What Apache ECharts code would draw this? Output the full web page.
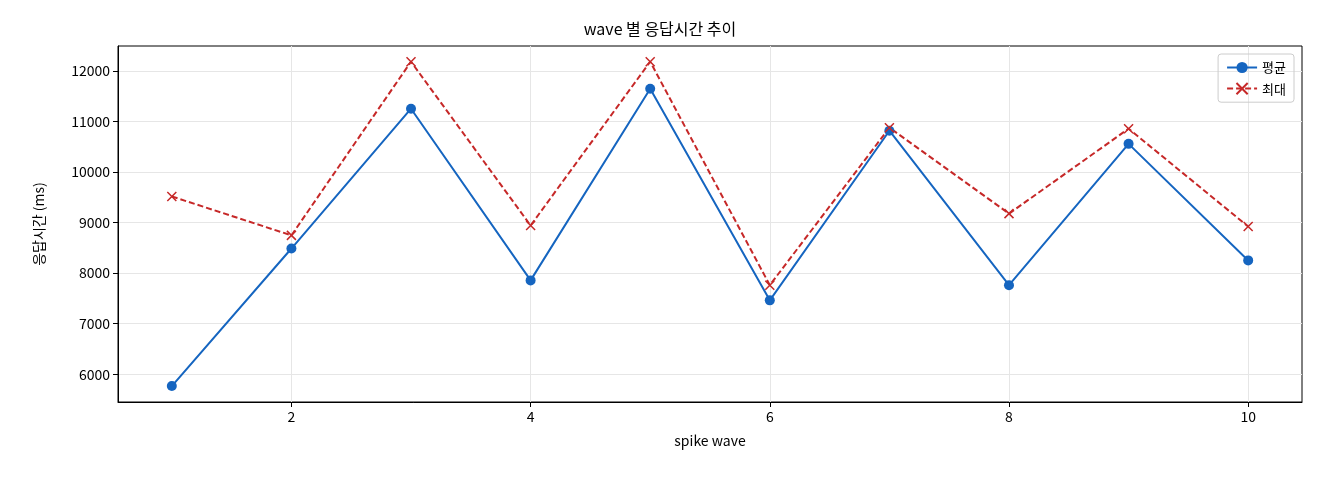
<!DOCTYPE html><html><head><meta charset="utf-8"><script src="https://cdn.jsdelivr.net/npm/echarts@6/dist/echarts.min.js"></script></head><body style="margin:0"><div id="c" style="width:1320px;height:480px"></div><script>
const waves=[1,2,3,4,5,6,7,8,9,10];
const avgVals=[5765,8485,11250,7855,11645,7460,10815,7760,10555,8250];
const maxVals=[9515,8745,12180,8940,12180,7760,10875,9175,10855,8920];
const xTicks=[2,4,6,8,10];
const yTicks=[6000,7000,8000,9000,10000,11000,12000];
const F='"Noto Sans CJK KR","DejaVu Sans",sans-serif';
const ch=echarts.init(document.getElementById('c'));
const ax={fontFamily:F,fontSize:14,color:'#000'};
ch.setOption({animation:false,
title:{text:'wave 별 응답시간 추이',left:'center',top:16,textStyle:{fontFamily:F,fontSize:16,fontWeight:'normal',color:'#000'}},
legend:{right:26,top:54,orient:'vertical',itemGap:8,borderColor:'#ccc',borderWidth:1,borderRadius:3,padding:[7,8],textStyle:{fontFamily:F,fontSize:13,color:'#000'},itemWidth:30},
grid:{left:118,right:18,top:46,bottom:78,show:true,borderColor:'#000',borderWidth:1},
xAxis:{type:'value',min:0.55,max:10.45,name:'spike wave',nameLocation:'middle',nameGap:32,nameTextStyle:ax,
axisLine:{onZero:false,lineStyle:{color:'#000'}},axisTick:{show:true,customValues:xTicks,length:5,lineStyle:{color:'#000'}},axisLabel:Object.assign({customValues:xTicks,margin:8},ax),splitLine:{show:true,lineStyle:{color:'#e6e6e6'}}},
yAxis:{type:'value',min:5450,max:12490,name:'응답시간 (ms)',nameLocation:'middle',nameGap:72,nameTextStyle:ax,
axisLine:{show:true,lineStyle:{color:'#000'}},axisTick:{show:true,customValues:yTicks,length:5,lineStyle:{color:'#000'}},axisLabel:Object.assign({customValues:yTicks,margin:8,formatter:v=>String(v)},ax),splitLine:{show:true,lineStyle:{color:'#e6e6e6'}}},
series:[
{name:'평균',type:'line',data:waves.map((w,i)=>[w,avgVals[i]]),symbol:'circle',symbolSize:10,itemStyle:{color:'#1565c0'},lineStyle:{width:2,color:'#1565c0'}},
{name:'최대',type:'line',data:waves.map((w,i)=>[w,maxVals[i]]),symbol:'path://M0,0L10,10M10,0L0,10',symbolSize:9,itemStyle:{color:'#fff',borderColor:'#c62828',borderWidth:1.5},lineStyle:{width:2,type:[6,3],color:'#c62828'}}
]});
</script></body></html>
